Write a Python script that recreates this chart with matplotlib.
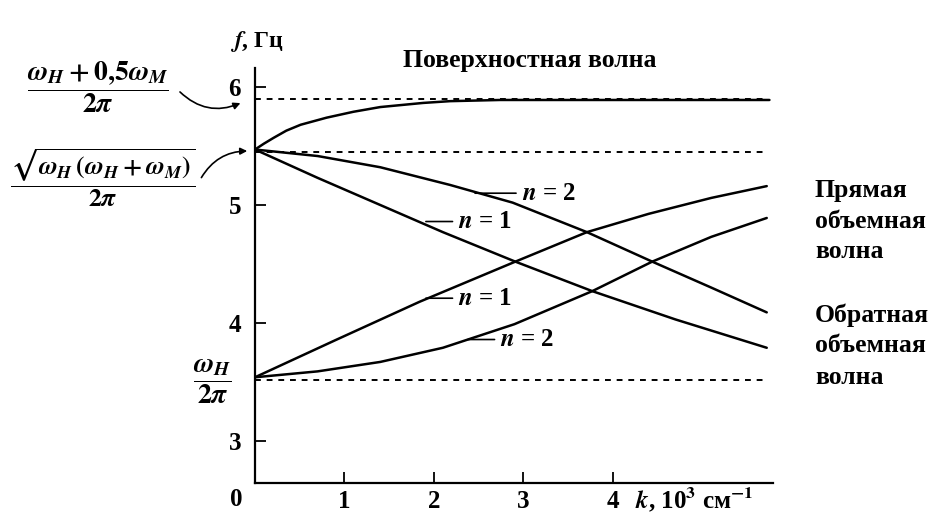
import matplotlib.pyplot as plt

plt.rcParams['font.family'] = ['Liberation Serif', 'DejaVu Serif']
plt.rcParams['font.weight'] = 'bold'
plt.rcParams['mathtext.fontset'] = 'stix'

# dispersion curves f(k), k in 10^3 cm^-1, f in Hz
k_surf = [0, 0.1, 0.21, 0.35, 0.51, 0.80, 1.1, 1.4, 1.88, 2.18, 2.74, 3.5, 5.75]
f_surf = [5.47, 5.52, 5.57, 5.63, 5.68, 5.74, 5.79, 5.83, 5.865, 5.88, 5.89, 5.89, 5.89]

k_back2 = [0, 0.7, 1.4, 2.18, 2.88, 3.71, 4.44, 5.1, 5.72]
f_back2 = [5.47, 5.415, 5.32, 5.17, 5.02, 4.77, 4.52, 4.30, 4.09]

k_back1 = [0, 0.7, 1.4, 2.1, 2.91, 3.77, 4.7, 5.72]
f_back1 = [5.47, 5.23, 5.0, 4.77, 4.52, 4.27, 4.03, 3.79]

k_fwd1 = [0, 0.9, 1.84, 2.91, 3.71, 4.4, 5.1, 5.72]
f_fwd1 = [3.54, 3.855, 4.18, 4.52, 4.77, 4.925, 5.06, 5.16]

k_fwd2 = [0, 0.7, 1.4, 2.1, 2.9, 3.77, 4.44, 5.1, 5.72]
f_fwd2 = [3.54, 3.59, 3.67, 3.79, 3.99, 4.27, 4.52, 4.73, 4.89]

# limiting frequencies
f_limits = [5.90, 5.45, 3.52]
k_end = 5.72

x_ticks = [1, 2, 3, 4]
y_ticks = [3, 4, 5, 6]

W, H = 929, 517
fig = plt.figure(figsize=(W / 100, H / 100), dpi=100)
ax = fig.add_axes([255 / W, (H - 483) / H, (773 - 255) / W, (483 - 68) / H])
ax.set_xlim(0, 5.79)
ax.set_ylim(2.644, 6.161)

for s in ['top', 'right']:
    ax.spines[s].set_visible(False)
for s in ['left', 'bottom']:
    ax.spines[s].set_linewidth(1.6)

ax.set_xticks(x_ticks)
ax.set_yticks(y_ticks)
ax.tick_params(direction='in', length=8, width=1.3, labelsize=18, pad=5)
ax.tick_params(axis='y', pad=10)

lw = 1.8
for k, f in [(k_surf, f_surf), (k_back2, f_back2), (k_back1, f_back1),
             (k_fwd1, f_fwd1), (k_fwd2, f_fwd2)]:
    ax.plot(k, f, color='black', lw=lw, solid_joinstyle='round', solid_capstyle='round')

for fl in f_limits:
    ax.plot([0, k_end], [fl, fl], color='black', lw=1.4, linestyle=(0, (3, 3)))

# mode labels with short leaders
labels = [
    ('$n$ = 2', (2.46, 5.10), 2.98),
    ('$n$ = 1', (1.91, 4.86), 2.27),
    ('$n$ = 1', (1.91, 4.21), 2.27),
    ('$n$ = 2', (2.38, 3.86), 2.74),
]
for txt, xy, xt in labels:
    ax.annotate(txt, xy=xy, xytext=(xt, xy[1]), fontsize=18, va='center', ha='left',
                arrowprops=dict(arrowstyle='-', lw=1.2, color='black',
                                shrinkA=2, shrinkB=0))


def fx(px):
    return px / W


def fy(py):
    return 1 - py / H


fig.text(fx(236), fy(500), '0', fontsize=18, ha='center', va='center')
fig.text(fx(257), fy(42), '$f$, Гц', fontsize=17, ha='center', va='center')
fig.text(fx(694), fy(500), '$k$, 10$^3$ см$^{-1}$', fontsize=18, ha='center', va='center')
fig.text(fx(530), fy(61), 'Поверхностная волна', fontsize=18.5, ha='center', va='center')

for i, line in enumerate(['Прямая', 'объемная', 'волна']):
    fig.text(fx(815), fy(190 + 31 * i), line, fontsize=18.5, ha='left', va='center')
for i, line in enumerate(['Обратная', 'объемная', 'волна']):
    fig.text(fx(815), fy(315 + 31 * i), line, fontsize=18.5, ha='left', va='center')

# limiting frequency formulas on the left
fig.text(fx(98), fy(87), r'$\dfrac{\omega_H + 0{,}5\omega_M}{2\pi}$', fontsize=20,
         ha='center', va='center')
fig.text(fx(103), fy(178), r'$\dfrac{\sqrt{\omega_H\,(\omega_H + \omega_M)}}{2\pi}$',
         fontsize=18.5, ha='center', va='center')
fig.text(fx(212), fy(382), r'$\dfrac{\omega_H}{2\pi}$', fontsize=20,
         ha='center', va='center')

arrow = dict(arrowstyle='-|>', lw=1.2, color='black', mutation_scale=10)
ax.annotate('', xy=(fx(243), fy(102)), xycoords='figure fraction',
            xytext=(fx(178), fy(90)), textcoords='figure fraction',
            arrowprops=dict(arrow, connectionstyle='arc3,rad=0.35'))
ax.annotate('', xy=(fx(250), fy(151)), xycoords='figure fraction',
            xytext=(fx(200), fy(180)), textcoords='figure fraction',
            arrowprops=dict(arrow, connectionstyle='arc3,rad=-0.3'))

fig.savefig('out.png', dpi=100, facecolor='white')
